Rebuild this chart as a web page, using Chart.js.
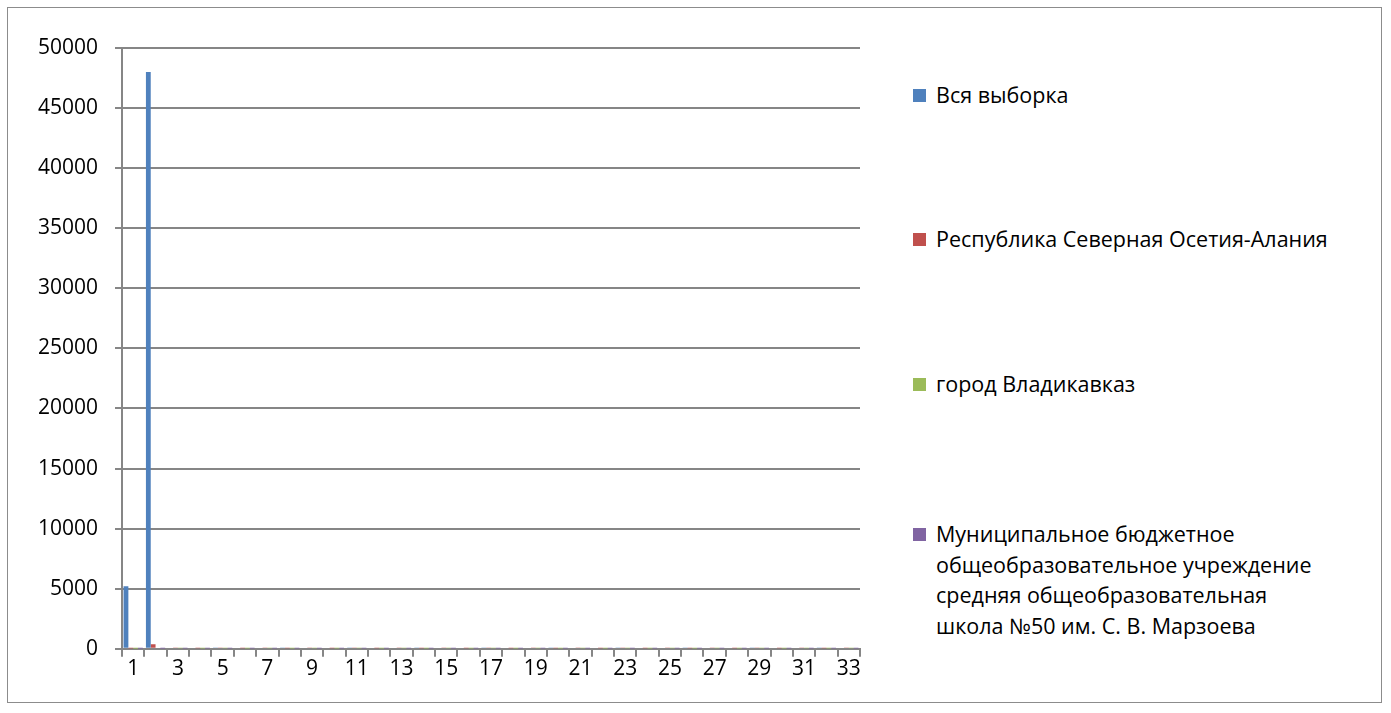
<!DOCTYPE html>
<html>
<head>
<meta charset="utf-8">
<script src="https://cdn.jsdelivr.net/npm/chart.js@4/dist/chart.umd.min.js"></script>
<style>
  html, body { margin: 0; padding: 0; background: #fff; }
  #wrap { position: relative; width: 1391px; height: 713px; }
  #frame { position: absolute; left: 7px; top: 7px; width: 1375px; height: 696px; border: 1px solid #8c8c8c; box-sizing: border-box; }
  #chartBox { position: absolute; left: 8px; top: 8px; width: 880px; height: 690px; }
  .leg { position: absolute; left: 913px; font-family: "Open Sans", sans-serif; font-size: 21.5px; line-height: 30.5px; color: #000; }
  .leg .sw { position: absolute; left: 0; top: 9px; width: 13px; height: 13px; }
  .leg .tx { margin-left: 23px; width: 450px; }
</style>
</head>
<body>
<div id="wrap">
  <div id="frame"></div>
  <div id="chartBox"><canvas id="barChart"></canvas></div>
  <div id="legend"></div>
</div>
<script>
var categories = [];
for (var i = 1; i <= 33; i++) categories.push(String(i));

var seriesNames = [
  "Вся выборка",
  "Республика Северная Осетия-Алания",
  "город Владикавказ",
  "Муниципальное бюджетное общеобразовательное учреждение средняя общеобразовательная школа №50 им. С. В. Марзоева"
];
var legendLines = [
  ["Вся выборка"],
  ["Республика Северная Осетия-Алания"],
  ["город Владикавказ"],
  ["Муниципальное бюджетное", "общеобразовательное учреждение", "средняя общеобразовательная", "школа №50 им. С. В. Марзоева"]
];
var seriesColors = ["#4f81bd", "#c0504d", "#9bbb59", "#8064a2"];

var vsyaVyborka = [5200, 48000, 90, 80, 70, 90, 80, 70, 90, 80, 70, 90, 80, 70, 90, 80, 70, 90, 80, 70, 90, 80, 70, 90, 80, 70, 90, 80, 70, 90, 80, 70, 90];
var respublika = [20, 380, 60, 50, 60, 50, 60, 50, 60, 50, 60, 50, 60, 50, 60, 50, 60, 50, 60, 50, 60, 50, 60, 50, 60, 50, 60, 50, 60, 50, 60, 50, 60];
var gorod = [5, 90, 40, 30, 40, 30, 40, 30, 40, 30, 40, 30, 40, 30, 40, 30, 40, 30, 40, 30, 40, 30, 40, 30, 40, 30, 40, 30, 40, 30, 40, 30, 40];
var shkola = [1, 3, 30, 25, 30, 25, 30, 25, 30, 25, 30, 25, 30, 25, 30, 25, 30, 25, 30, 25, 30, 25, 30, 25, 30, 25, 30, 25, 30, 25, 30, 25, 30];

var yTicks = [0, 5000, 10000, 15000, 20000, 25000, 30000, 35000, 40000, 45000, 50000];
var legendY = [80, 224, 369, 519];

var allValues = [vsyaVyborka, respublika, gorod, shkola];
var gridGray = "#868686";
var tickFont = { family: "Open Sans", size: 21 };

var ctx = document.getElementById("barChart").getContext("2d");
var myChart = new Chart(ctx, {
  type: "bar",
  data: {
    labels: categories,
    datasets: allValues.map(function (vals, k) {
      return {
        label: seriesNames[k],
        data: vals,
        backgroundColor: seriesColors[k],
        borderWidth: 0,
        categoryPercentage: 0.86,
        barPercentage: 1.0,
      };
    }),
  },
  options: {
    responsive: true,
    maintainAspectRatio: false,
    animation: false,
    layout: { padding: { top: 40, right: 28, bottom: 16, left: 0 } },
    plugins: { legend: { display: false }, tooltip: { enabled: false } },
    scales: {
      x: {
        grid: { drawOnChartArea: false, color: gridGray, lineWidth: 2, tickLength: 8, offset: true },
        border: { color: gridGray, width: 2 },
        ticks: {
          color: "#000",
          font: tickFont,
          autoSkip: false,
          maxRotation: 0,
          padding: 0,
          callback: function (v, i) { return i % 2 === 0 ? categories[i] : ""; },
        },
      },
      y: {
        min: 0,
        max: 50000,
        afterFit: function (scale) { scale.width = 114; },
        afterBuildTicks: function (scale) { scale.ticks = yTicks.map(function (v) { return { value: v }; }); },
        grid: { color: gridGray, lineWidth: 2, tickLength: 7 },
        border: { color: gridGray, width: 2 },
        ticks: {
          color: "#000",
          font: tickFont,
          padding: 17,
          callback: function (v) { return String(v); },
        },
      },
    },
  },
});

var legend = document.getElementById("legend");
legendLines.forEach(function (lines, k) {
  var item = document.createElement("div");
  item.className = "leg";
  item.style.top = legendY[k] + "px";
  item.innerHTML = '<span class="sw" style="background:' + seriesColors[k] + '"></span><div class="tx">' + lines.join("<br>") + "</div>";
  legend.appendChild(item);
});
</script>
</body>
</html>
